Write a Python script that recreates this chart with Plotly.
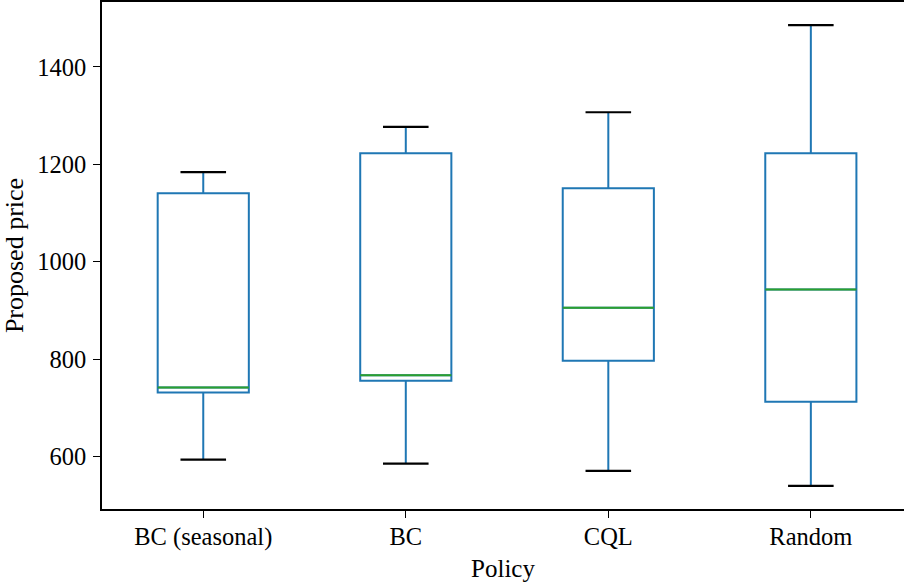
import plotly.graph_objects as go

# ---- data ----
categories = ["BC (seasonal)", "BC", "CQL", "Random"]
lower_whisker = [594, 586, 571, 540]
q1 = [732, 756, 797, 713]
median = [742, 767, 906, 943]
q3 = [1141, 1223, 1151, 1223]
upper_whisker = [1184, 1277, 1307, 1486]
y_ticks = [600, 800, 1000, 1200, 1400]

positions = list(range(len(categories)))
BOX_W = 0.45
CAP_W = BOX_W / 2
BLUE = "#1f77b4"
GREEN = "#2ca02c"
FONT = "Liberation Serif"

fig = go.Figure()
fig.add_trace(go.Box(
    x=positions, q1=q1, median=median, q3=q3,
    lowerfence=lower_whisker, upperfence=upper_whisker,
    width=BOX_W, whiskerwidth=0, boxpoints=False,
    line=dict(color=BLUE, width=2), fillcolor="rgba(0,0,0,0)",
    showlegend=False, hoverinfo="skip",
))

def seg(vals, half):
    xs, ys = [], []
    for p, v in zip(positions, vals):
        xs += [p - half, p + half, None]
        ys += [v, v, None]
    return xs, ys

for vals in (lower_whisker, upper_whisker):
    xs, ys = seg(vals, CAP_W / 2)
    fig.add_trace(go.Scatter(x=xs, y=ys, mode="lines",
                             line=dict(color="black", width=2.2),
                             showlegend=False, hoverinfo="skip"))

xs, ys = seg(median, BOX_W / 2)
fig.add_trace(go.Scatter(x=xs, y=ys, mode="lines",
                         line=dict(color=GREEN, width=2),
                         showlegend=False, hoverinfo="skip"))

fig.update_layout(
    width=904, height=583,
    margin=dict(l=102, r=0, t=2, b=74),
    paper_bgcolor="white", plot_bgcolor="white",
    font=dict(family=FONT, size=22, color="black"),
    xaxis=dict(
        range=[-0.5, 3.46], tickvals=positions, ticktext=categories,
        showgrid=False, zeroline=False, showline=True, linecolor="black",
        linewidth=1.5, mirror=True, ticks="outside", ticklen=7,
        tickwidth=1.3, tickcolor="black", ticklabelstandoff=-2,
        tickfont=dict(family=FONT, size=24.5, color="black"),
        title=dict(text="Policy", standoff=9,
                   font=dict(family=FONT, size=25, color="black")),
    ),
    yaxis=dict(
        range=[492.7, 1533.3], tickvals=y_ticks,
        showgrid=False, zeroline=False, showline=True, linecolor="black",
        linewidth=1.5, ticks="outside", ticklen=7, tickwidth=1.3,
        tickcolor="black", ticklabelstandoff=2,
        tickfont=dict(family=FONT, size=24.5, color="black"),
        title=dict(text="Proposed price", standoff=6,
                   font=dict(family=FONT, size=26, color="black")),
    ),
)

fig.write_html("out.html")
